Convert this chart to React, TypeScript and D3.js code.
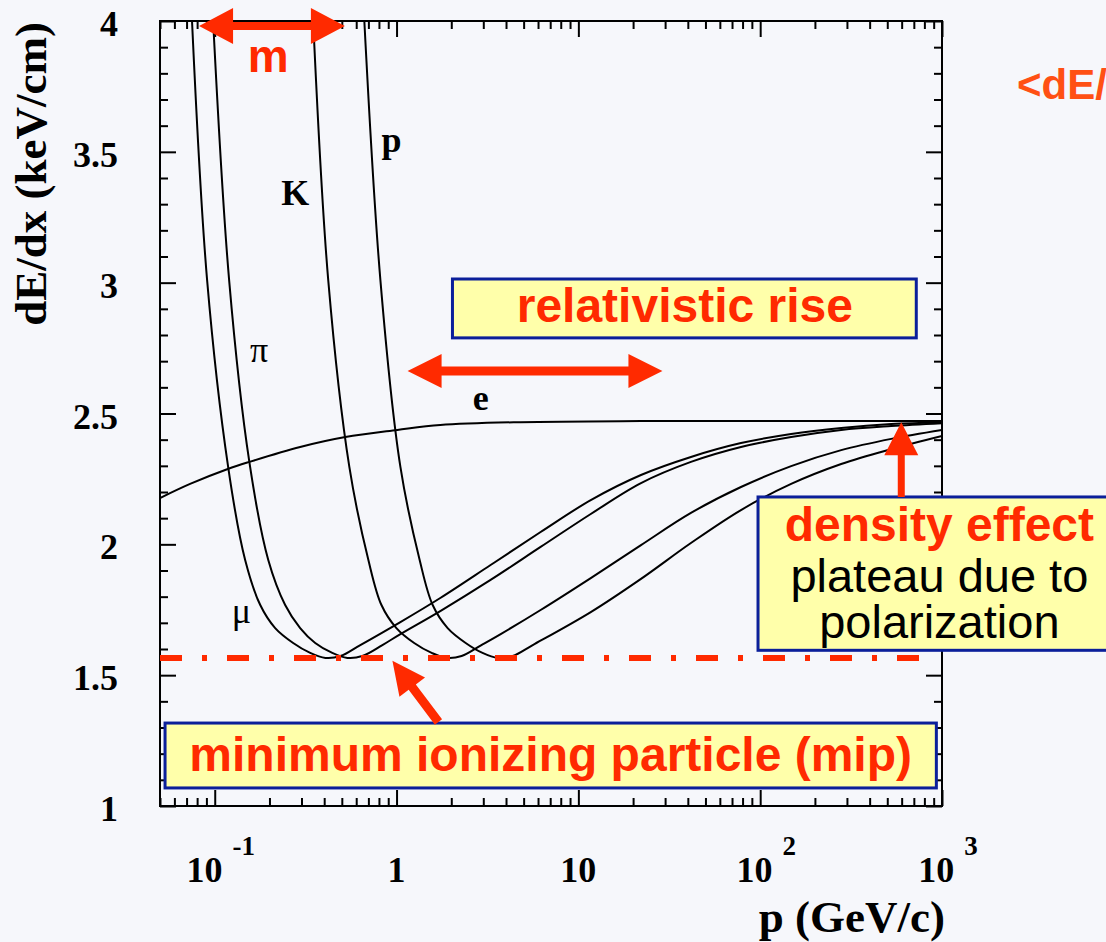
import * as d3 from 'd3';
import { useEffect, useRef } from 'react';

// momentum p (GeV/c) and mean dE/dx (keV/cm)
const eMomentum = [0.05, 0.0732, 0.118, 0.155, 0.295, 0.523, 1.01, 1.74, 4.81, 22.1, 1000];
const eDedx = [2.177, 2.231, 2.288, 2.315, 2.372, 2.41, 2.437, 2.456, 2.467, 2.471, 2.471];

const muMomentum = [0.075, 0.0908, 0.1185, 0.147, 0.178, 0.215, 0.27, 0.335, 0.406, 0.491, 0.632, 1.05, 1.74, 3.29, 6.2, 11.7, 22.1, 41.6, 78.4, 148, 279, 526, 1000];
const muDedx = [4.0, 3.01, 2.296, 1.94, 1.768, 1.68, 1.623, 1.585, 1.566, 1.573, 1.615, 1.703, 1.795, 1.921, 2.047, 2.169, 2.265, 2.334, 2.387, 2.422, 2.445, 2.46, 2.467];

const piMomentum = [0.098, 0.12, 0.155, 0.197, 0.244, 0.295, 0.357, 0.443, 0.536, 0.648, 0.836, 1.05, 1.74, 3.29, 6.2, 11.7, 22.1, 41.6, 78.4, 148, 279, 526, 1000];
const piDedx = [4.0, 3.01, 2.315, 1.94, 1.768, 1.68, 1.623, 1.585, 1.566, 1.573, 1.615, 1.657, 1.745, 1.864, 1.99, 2.116, 2.234, 2.315, 2.372, 2.41, 2.437, 2.452, 2.463];

const kMomentum = [0.348, 0.421, 0.55, 0.7, 0.826, 0.998, 1.25, 1.56, 1.88, 2.28, 2.93, 3.74, 6.2, 11.7, 22.1, 41.6, 78.4, 148, 279, 526, 1000];
const kDedx = [4.0, 3.01, 2.296, 1.94, 1.768, 1.68, 1.623, 1.585, 1.566, 1.573, 1.615, 1.657, 1.749, 1.871, 1.997, 2.12, 2.219, 2.299, 2.36, 2.403, 2.437];

const pMomentum = [0.665, 0.815, 1.05, 1.34, 1.58, 1.91, 2.4, 2.97, 3.6, 4.35, 5.61, 11.7, 22.1, 41.6, 78.4, 148, 279, 526, 1000];
const pDedx = [4.0, 3.01, 2.296, 1.94, 1.768, 1.68, 1.623, 1.585, 1.566, 1.573, 1.615, 1.741, 1.868, 2.005, 2.131, 2.231, 2.307, 2.364, 2.414];

// curve labels
const labelText = ['p', 'K', 'π', 'e', 'μ'];
const labelMomentum = [0.937, 0.277, 0.1755, 2.9, 0.14];
const labelDedx = [3.499, 3.297, 2.697, 2.513, 1.699];
const labelBold = [true, true, false, true, false];

// axes
const xMajorTicks = [0.1, 1, 10, 100, 1000];
const xTickBase = ['10', '1', '10', '10', '10'];
const xTickExp = ['-1', '', '', '2', '3'];
const yMajorTicks = [1, 1.5, 2, 2.5, 3, 3.5, 4];
const yTickLabels = ['1', '1.5', '2', '2.5', '3', '3.5', '4'];

// annotations
const mipLevel = 1.566;
const mipLineEnd = 900;
const massArrowP = [0.082, 0.52];
const massArrowV = 3.981;
const riseArrowP = [1.15, 29];
const riseArrowV = 2.662;
const riseBoxP = [2.03, 722];
const riseBoxV = [2.789, 3.014];
const mipBoxP = [0.0533, 931];
const mipBoxV = [1.069, 1.317];
const mipArrowP = [1.7, 0.949];
const mipArrowV = [1.321, 1.555];
const densityBoxP = [97.3, 20000];
const densityBoxV = [1.595, 2.181];
const densityArrowP = 597;
const densityArrowV = [2.181, 2.467];

const noteText = ['m', 'relativistic rise', 'minimum ionizing particle (mip)', 'density effect', 'plateau due to', 'polarization'];
const noteP = [0.197, 38.5, 7.04, 967, 967, 967];
const noteV = [3.805, 2.85, 1.134, 2.011, 1.817, 1.641];
const noteRed = [true, true, true, true, false, false];

const W = 1106;
const H = 942;
const margin = { top: 21, right: 164, bottom: 136, left: 160 };
const RED = '#ff2a00';
const SERIF = "'Liberation Serif', 'Times New Roman', serif";
const SANS = "'Liberation Sans', Arial, sans-serif";

function arrowShape(x1, y1, x2, y2, head, half, shaft, both) {
  const dx = x2 - x1, dy = y2 - y1;
  const len = Math.hypot(dx, dy);
  const ux = dx / len, uy = dy / len;
  const nx = -uy, ny = ux;
  const at = (bx, by, w) => [bx + nx * w, by + ny * w];
  const eb = [x2 - ux * head, y2 - uy * head];
  const sb = both ? [x1 + ux * head, y1 + uy * head] : [x1, y1];
  const pts = [];
  if (both) pts.push([x1, y1], at(sb[0], sb[1], -half));
  pts.push(
    at(sb[0], sb[1], -shaft),
    at(eb[0], eb[1], -shaft),
    at(eb[0], eb[1], -half),
    [x2, y2],
    at(eb[0], eb[1], half),
    at(eb[0], eb[1], shaft),
    at(sb[0], sb[1], shaft)
  );
  if (both) pts.push(at(sb[0], sb[1], half));
  return d3.line()(pts) + 'Z';
}

const App = () => {
  const svgRef = useRef(null);

  useEffect(() => {
    const svg = d3.select(svgRef.current);
    svg.selectAll('*').remove();

    const x = d3.scaleLog().domain([0.05, 1000]).range([margin.left, W - margin.right]);
    const y = d3.scaleLinear().domain([1, 4]).range([H - margin.bottom, margin.top]);

    svg.append('rect').attr('width', W).attr('height', H).attr('fill', '#f6f7fb');

    // curves
    svg.append('clipPath').attr('id', 'plotClip')
      .append('rect')
      .attr('x', x(0.05)).attr('y', y(4))
      .attr('width', x(1000) - x(0.05)).attr('height', y(1) - y(4));

    const line = d3.line()
      .x(d => x(d[0]))
      .y(d => y(d[1]))
      .curve(d3.curveCatmullRom.alpha(0.5));

    const curves = [
      [eMomentum, eDedx],
      [muMomentum, muDedx],
      [piMomentum, piDedx],
      [kMomentum, kDedx],
      [pMomentum, pDedx],
    ];
    svg.append('g').attr('clip-path', 'url(#plotClip)')
      .selectAll('path')
      .data(curves)
      .join('path')
      .attr('d', ([ps, vs]) => line(ps.map((p, i) => [p, vs[i]])))
      .attr('fill', 'none')
      .attr('stroke', '#000')
      .attr('stroke-width', 2);

    // frame and ticks
    const xMinor = [];
    [0.01, 0.1, 1, 10, 100].forEach(dec => {
      for (let k = 2; k <= 9; k++) {
        const v = dec * k;
        if (v >= 0.05 && v <= 1000) xMinor.push(v);
      }
    });
    const yMinor = d3.range(10, 41).map(i => i / 10).filter(v => Math.abs(v * 2 - Math.round(v * 2)) > 1e-6);

    const tickStyle = g => {
      g.select('.domain').remove();
      g.selectAll('text').remove();
      g.selectAll('line').attr('stroke', '#000').attr('stroke-width', 2);
    };
    const blank = () => '';
    const axes = [
      [d3.axisBottom(x), `translate(0,${y(1)})`, xMajorTicks, xMinor],
      [d3.axisTop(x), `translate(0,${y(4)})`, xMajorTicks, xMinor],
      [d3.axisLeft(y), `translate(${x(0.05)},0)`, yMajorTicks, yMinor],
      [d3.axisRight(y), `translate(${x(1000)},0)`, yMajorTicks, yMinor],
    ];
    axes.forEach(([axis, tr, major, minor]) => {
      svg.append('g').attr('transform', tr)
        .call(axis.tickValues(major).tickSize(-16).tickFormat(blank)).call(tickStyle);
      svg.append('g').attr('transform', tr)
        .call(axis.tickValues(minor).tickSize(-8).tickFormat(blank)).call(tickStyle);
    });

    svg.append('rect')
      .attr('x', x(0.05)).attr('y', y(4))
      .attr('width', x(1000) - x(0.05)).attr('height', y(1) - y(4))
      .attr('fill', 'none').attr('stroke', '#000').attr('stroke-width', 2);

    // tick labels
    svg.append('g').selectAll('text')
      .data(yMajorTicks)
      .join('text')
      .attr('x', 118)
      .attr('y', d => y(d) + 15)
      .attr('text-anchor', 'end')
      .attr('font-family', SERIF).attr('font-weight', 'bold').attr('font-size', 36)
      .text((d, i) => yTickLabels[i]);

    const xl = svg.append('g').selectAll('text')
      .data(xMajorTicks)
      .join('text')
      .attr('x', (d, i) => x(d) + (xTickExp[i] ? 6 : 0))
      .attr('y', 882)
      .attr('text-anchor', 'middle')
      .attr('font-family', SERIF).attr('font-weight', 'bold').attr('font-size', 36);
    xl.append('tspan').text((d, i) => xTickBase[i]);
    xl.filter((d, i) => xTickExp[i] !== '')
      .append('tspan')
      .attr('dx', 10).attr('dy', -27).attr('font-size', 27)
      .text(d => xTickExp[xMajorTicks.indexOf(d)]);

    // axis titles
    svg.append('text')
      .attr('x', x(1000) + 3).attr('y', 932)
      .attr('text-anchor', 'end')
      .attr('font-family', SERIF).attr('font-weight', 'bold').attr('font-size', 45)
      .text('p (GeV/c)');
    svg.append('text')
      .attr('transform', 'translate(46,22) rotate(-90)')
      .attr('text-anchor', 'end')
      .attr('font-family', SERIF).attr('font-weight', 'bold').attr('font-size', 45)
      .text('dE/dx (keV/cm)');

    // curve labels
    svg.append('g').selectAll('text')
      .data(labelText)
      .join('text')
      .attr('x', (d, i) => x(labelMomentum[i]))
      .attr('y', (d, i) => y(labelDedx[i]))
      .attr('text-anchor', 'middle')
      .attr('font-family', SERIF)
      .attr('font-weight', (d, i) => (labelBold[i] ? 'bold' : 'normal'))
      .attr('font-size', 36)
      .text(d => d);

    // minimum ionizing level
    svg.append('line')
      .attr('x1', x(0.05)).attr('x2', x(mipLineEnd))
      .attr('y1', y(mipLevel)).attr('y2', y(mipLevel))
      .attr('stroke', RED).attr('stroke-width', 6)
      .attr('stroke-dasharray', '22 20 5 20');

    // boxes
    const boxes = [
      [riseBoxP, riseBoxV],
      [mipBoxP, mipBoxV],
      [densityBoxP, densityBoxV],
    ];
    svg.append('g').selectAll('rect')
      .data(boxes)
      .join('rect')
      .attr('x', ([ps]) => x(ps[0]))
      .attr('y', ([, vs]) => y(vs[1]))
      .attr('width', ([ps]) => x(ps[1]) - x(ps[0]))
      .attr('height', ([, vs]) => y(vs[0]) - y(vs[1]))
      .attr('fill', '#ffffaa')
      .attr('stroke', '#0b1f9a')
      .attr('stroke-width', 3);

    // arrows
    const arrows = [
      arrowShape(x(massArrowP[0]), y(massArrowV), x(massArrowP[1]), y(massArrowV), 34, 18, 4, true),
      arrowShape(x(riseArrowP[0]), y(riseArrowV), x(riseArrowP[1]), y(riseArrowV), 34, 17, 4.5, true),
      arrowShape(x(densityArrowP), y(densityArrowV[0]), x(densityArrowP), y(densityArrowV[1]), 33, 17, 3.5, false),
      arrowShape(x(mipArrowP[0]), y(mipArrowV[0]), x(mipArrowP[1]), y(mipArrowV[1]), 33, 16, 4.5, false),
    ];
    svg.append('g').selectAll('path')
      .data(arrows)
      .join('path')
      .attr('d', d => d)
      .attr('fill', RED);

    // annotation text
    svg.append('g').selectAll('text')
      .data(noteText)
      .join('text')
      .attr('x', (d, i) => x(noteP[i]))
      .attr('y', (d, i) => y(noteV[i]))
      .attr('text-anchor', 'middle')
      .attr('font-family', SANS)
      .attr('font-weight', (d, i) => (noteRed[i] ? 'bold' : 'normal'))
      .attr('font-size', (d, i) => (i === 0 ? 46 : noteRed[i] ? 48 : 47))
      .attr('fill', (d, i) => (noteRed[i] ? RED : '#000'))
      .text(d => d);

    svg.append('text')
      .attr('x', 1017).attr('y', 99)
      .attr('font-family', SANS).attr('font-weight', 'bold').attr('font-size', 42)
      .attr('fill', '#ff5014')
      .text('<dE/dx>');
  }, []);

  return (
    <svg
      ref={svgRef}
      width={W}
      height={H}
      style={{ position: 'absolute', left: 0, top: 0, display: 'block' }}
    />
  );
};

export default App;
